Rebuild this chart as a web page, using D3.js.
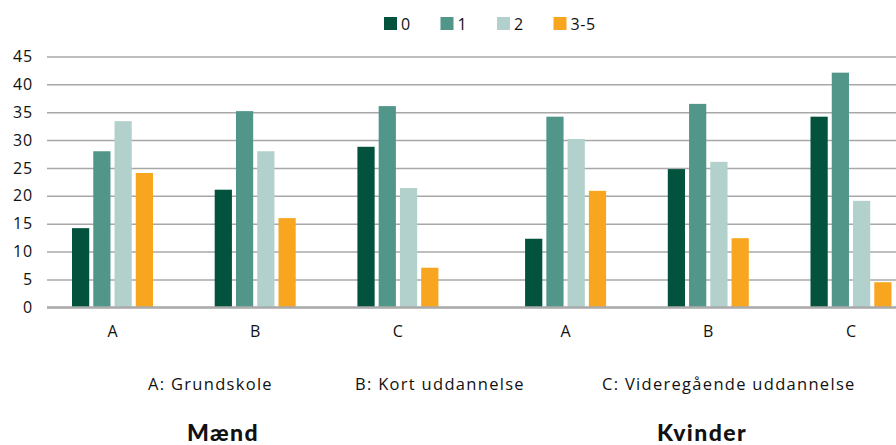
<!DOCTYPE html>
<html>
<head>
<meta charset="utf-8">
<script src="https://cdn.jsdelivr.net/npm/d3@7"></script>
<style>
  body { margin: 0; background: #fff; }
  svg text { font-family: "Open Sans", "Lato", sans-serif; fill: #111; }
</style>
</head>
<body>
<div id="chart"></div>
<script>
// Data
const groups = ["Mænd", "Kvinder"];
const categories = ["A", "B", "C"];
const series = ["0", "1", "2", "3-5"];
// values per series: Mænd A, B, C, Kvinder A, B, C
const s0 = [14.2, 21.1, 28.8, 12.3, 24.8, 34.2];
const s1 = [28.0, 35.2, 36.1, 34.2, 36.5, 42.1];
const s2 = [33.4, 28.0, 21.4, 30.2, 26.1, 19.1];
const s35 = [24.1, 16.0, 7.1, 20.9, 12.4, 4.5];
const yTicks = [0, 5, 10, 15, 20, 25, 30, 35, 40, 45];
const notes = ["A: Grundskole", "B: Kort uddannelse", "C: Videregående uddannelse"];

const colors = ["#02523d", "#52968a", "#b3d1cc", "#f8a51f"];
const values = [s0, s1, s2, s35];

const width = 896, height = 445;

// one row per bar group
var rows = [];
groups.forEach(function(g, gi) {
    categories.forEach(function(c, ci) {
        var idx = gi * categories.length + ci;
        rows.push({
            group: g, cat: c,
            slot: ci + gi * (categories.length + 0.175),
            vals: series.map(function(s, si) { return {key: s, value: values[si][idx]}; })
        });
    });
});

// Scales
const x = d3.scaleLinear().domain([0, 5.175]).range([112.5, 851]);
const xi = d3.scaleBand().domain(series).range([-40.5, 40.5]).paddingInner(0.19);
const y = d3.scaleLinear().domain([0, 45]).range([307.3, 56.5]);
const color = d3.scaleOrdinal().domain(series).range(colors);

var svg = d3.select("#chart").append("svg")
    .attr("width", width)
    .attr("height", height);

// Gridlines + y labels
svg.append("g")
    .attr("class", "axis axis--y")
    .attr("transform", "translate(47,0)")
    .call(d3.axisLeft(y).tickValues(yTicks).tickSize(-(width - 47)).tickPadding(14))
    .call(function(g) {
        g.select(".domain").remove();
        g.selectAll(".tick line")
            .attr("stroke", function(d) { return d === 0 ? "#ababab" : "#a8a8a8"; })
            .attr("stroke-width", function(d) { return d === 0 ? 2 : 1.5; });
        g.selectAll(".tick text")
            .style("font-size", "16px")
            .style("font-family", "'Open Sans', sans-serif")
            .style("letter-spacing", "0.8px")
            .attr("fill", "#111");
    });

// Bars
var bars = svg.append("g").selectAll("g")
    .data(rows)
    .join("g")
    .attr("transform", function(d) { return "translate(" + x(d.slot) + ",0)"; });

bars.selectAll("rect")
    .data(function(d) { return d.vals; })
    .join("rect")
    .attr("x", function(d) { return xi(d.key); })
    .attr("width", xi.bandwidth())
    .attr("y", function(d) { return y(d.value); })
    .attr("height", function(d) { return y(0) - y(d.value); })
    .attr("fill", function(d) { return color(d.key); });

// redraw zero line over bars
svg.append("line")
    .attr("x1", 47).attr("x2", width)
    .attr("y1", y(0)).attr("y2", y(0))
    .attr("stroke", "#ababab")
    .attr("stroke-width", 2);

// Category labels
svg.append("g").selectAll("text")
    .data(rows)
    .join("text")
    .attr("x", function(d) { return x(d.slot); })
    .attr("y", 337)
    .attr("text-anchor", "middle")
    .style("font-size", "16px")
    .text(function(d) { return d.cat; });

// Legend
var legend = svg.append("g").selectAll("g")
    .data(series)
    .join("g")
    .attr("transform", function(d, i) { return "translate(" + (384 + i * 56.5) + ",17)"; });

legend.append("rect")
    .attr("width", 13)
    .attr("height", 13)
    .attr("fill", function(d) { return color(d); });

legend.append("text")
    .attr("x", 17)
    .attr("y", 13)
    .style("font-size", "16px")
    .style("letter-spacing", "0.6px")
    .text(function(d) { return d; });

// Notes
const noteX = [148, 355, 602];
svg.append("g").selectAll("text")
    .data(notes)
    .join("text")
    .attr("x", function(d, i) { return noteX[i]; })
    .attr("y", 390)
    .style("font-size", "16.5px")
    .style("letter-spacing", "1.3px")
    .text(function(d) { return d; });

// Group titles
const titleX = [223, 702];
svg.append("g").selectAll("text")
    .data(groups)
    .join("text")
    .attr("x", function(d, i) { return titleX[i]; })
    .attr("y", 441)
    .attr("text-anchor", "middle")
    .style("font-family", "Lato, sans-serif")
    .style("font-size", "23px")
    .style("font-weight", 900)
    .style("letter-spacing", "1.4px")
    .attr("fill", "#000")
    .text(function(d) { return d; });
</script>
</body>
</html>
